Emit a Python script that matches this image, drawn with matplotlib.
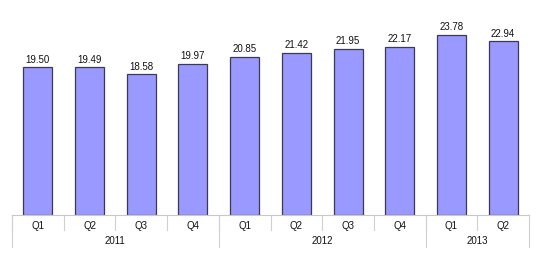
import matplotlib.pyplot as plt
import matplotlib.transforms as mtransforms

quarters = ["Q1", "Q2", "Q3", "Q4", "Q1", "Q2", "Q3", "Q4", "Q1", "Q2"]
values = [19.50, 19.49, 18.58, 19.97, 20.85, 21.42, 21.95, 22.17, 23.78, 22.94]
years = ["2011", "2012", "2013"]
year_counts = [4, 4, 2]

plt.rcParams["font.family"] = ["Liberation Sans", "DejaVu Sans"]

fig = plt.figure(figsize=(5.4, 2.65), dpi=100)
ax = fig.add_axes([12 / 540, 50 / 265, 517 / 540, 215 / 265])

x = list(range(len(values)))
bars = ax.bar(x, values, width=0.56, color="#9999ff", edgecolor="#3a3a55", linewidth=0.9)
for xi, v in zip(x, values):
    ax.annotate(f"{v:.2f}", (xi, v), xytext=(0, 2), textcoords="offset points",
                ha="center", va="bottom", fontsize=7, color="#111111")

ax.set_xlim(-0.5, len(values) - 0.5)
ax.set_ylim(0, 28.4)
ax.set_xticks([])
ax.set_yticks([])
for side in ["top", "left", "right"]:
    ax.spines[side].set_visible(False)
ax.spines["bottom"].set_color("#c8c8c8")
ax.spines["bottom"].set_linewidth(0.8)

trans = mtransforms.blended_transform_factory(ax.transData, ax.transAxes)
sep_color = "#d0d0d0"

# quarter labels and separators
for i, q in enumerate(quarters):
    ax.text(i, -0.052, q, transform=trans, ha="center", va="center", fontsize=7, color="#111111")
    ax.plot([i - 0.5, i - 0.5], [0, -0.07], transform=trans, color=sep_color, lw=0.8, clip_on=False)

# year labels and group separators
start = 0
for yr, n in zip(years, year_counts):
    ax.plot([start - 0.5, start - 0.5], [0, -0.15], transform=trans, color=sep_color, lw=0.8, clip_on=False)
    ax.text(start + (n - 1) / 2, -0.122, yr, transform=trans, ha="center", va="center",
            fontsize=7, color="#111111")
    start += n
ax.plot([start - 0.5, start - 0.5], [0, -0.15], transform=trans, color=sep_color, lw=0.8, clip_on=False)

fig.savefig("out.png", dpi=100)
